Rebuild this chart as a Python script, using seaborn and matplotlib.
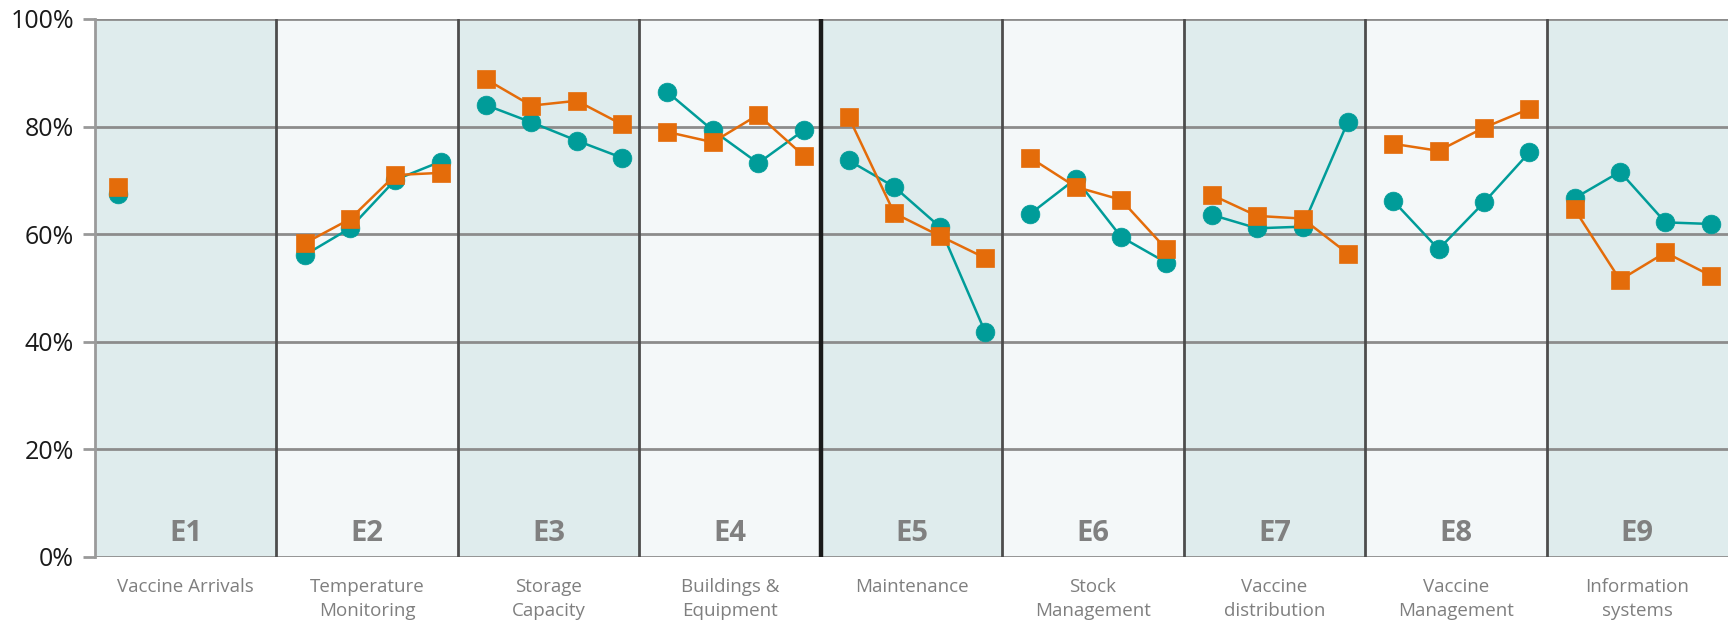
import numpy as np
import pandas as pd
import matplotlib
matplotlib.use("Agg")
import matplotlib.pyplot as plt
import seaborn as sns

# Domain codes and names
codes = ["E1", "E2", "E3", "E4", "E5", "E6", "E7", "E8", "E9"]
names = ["Vaccine Arrivals", "Temperature\nMonitoring", "Storage\nCapacity",
         "Buildings &\nEquipment", "Maintenance", "Stock\nManagement",
         "Vaccine\ndistribution", "Vaccine\nManagement", "Information\nsystems"]

# Scores (%) per domain, one value per supply-chain level
series_a = [
    [67.5],
    [56.1, 61.1, 70.1, 73.5],
    [84.0, 80.8, 77.4, 74.2],
    [86.4, 79.3, 73.2, 79.3],
    [73.7, 68.8, 61.4, 41.9],
    [63.8, 70.3, 59.5, 54.7],
    [63.6, 61.1, 61.4, 80.9],
    [66.2, 57.2, 65.9, 75.2],
    [66.7, 71.6, 62.2, 61.9],
]
series_b = [
    [68.8],
    [58.3, 62.8, 71.0, 71.4],
    [88.8, 83.9, 84.8, 80.4],
    [79.0, 77.1, 82.2, 74.6],
    [81.7, 63.9, 59.7, 55.6],
    [74.2, 68.8, 66.4, 57.2],
    [67.3, 63.4, 62.9, 56.4],
    [76.8, 75.5, 79.8, 83.3],
    [64.6, 51.5, 56.6, 52.3],
]
series_names = ["Assessment A", "Assessment B"]
yticks = [0, 20, 40, 60, 80, 100]

TEAL = "#009C99"
ORANGE = "#E46C0A"
BG_DARK = "#DFECED"
BG_LIGHT = "#F4F8F9"
SLOTS = 4

# Long-form table: x position within each domain's band of four slots
rows = []
for s_name, series in zip(series_names, [series_a, series_b]):
    for k, vals in enumerate(series):
        offset = 0.5 if len(vals) == 1 else 0.62
        for j, v in enumerate(vals):
            rows.append({"series": s_name, "domain": codes[k],
                         "x": k * SLOTS + j + offset, "score": v})
df = pd.DataFrame(rows)

sns.set_theme(style="white")
plt.rcParams["font.family"] = ["Open Sans", "DejaVu Sans"]

fig = plt.figure(figsize=(17.28, 6.21), dpi=100)
ax = fig.add_axes([95 / 1728, 1 - 557 / 621, 1 - 95 / 1728, (557 - 19) / 621])

n = len(codes)
for k in range(n):
    ax.axvspan(k * SLOTS, (k + 1) * SLOTS, color=BG_DARK if k % 2 == 0 else BG_LIGHT,
               zorder=0, lw=0)

for y in yticks:
    ax.axhline(y, color="#8C8C8C", lw=2, zorder=1)

for k in range(1, n):
    heavy = (k == 4)
    ax.axvline(k * SLOTS, color="#1A1A1A" if heavy else "#4D4D4D",
               lw=3.2 if heavy else 2.0, zorder=1.5)

palette = {series_names[0]: TEAL, series_names[1]: ORANGE}
markers = {series_names[0]: "o", series_names[1]: "s"}
for s_name, z in zip(series_names, [3, 4]):
    sub = df[df["series"] == s_name]
    sns.lineplot(data=sub, x="x", y="score", hue="series", style="series",
                 units="domain", estimator=None, sort=False,
                 palette=palette, markers=markers, dashes=False,
                 markersize=13.5, markeredgewidth=0.5,
                 markeredgecolor=palette[s_name], lw=1.8, legend=False,
                 ax=ax, zorder=z, clip_on=False)

for k, code in enumerate(codes):
    ax.text(k * SLOTS + SLOTS / 2, 4.4, code, ha="center", va="center",
            fontsize=21, fontweight="bold", color="#808080", zorder=5)
    ax.text(k * SLOTS + SLOTS / 2, -3.9, names[k], ha="center", va="top",
            fontsize=13.5, color="#7F7F7F", linespacing=1.42,
            transform=ax.transData, clip_on=False)

ax.set_xlim(0, n * SLOTS)
ax.set_ylim(0, 100)
ax.set_yticks(yticks)
ax.set_yticklabels([f"{v}%" for v in yticks], fontsize=18, color="#1A1A1A")
ax.set_xticks([])
ax.set_xlabel("")
ax.set_ylabel("")
ax.tick_params(axis="y", length=9, width=2, color="#999999", pad=6, left=True)
for side in ["top", "right", "bottom"]:
    ax.spines[side].set_visible(False)
ax.spines["left"].set_color("#9A9A9A")
ax.spines["left"].set_linewidth(2)
ax.spines["left"].set_zorder(2)

fig.savefig("out.png", dpi=100, facecolor="white")
